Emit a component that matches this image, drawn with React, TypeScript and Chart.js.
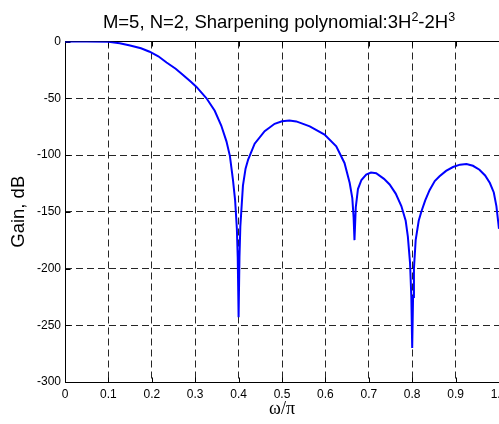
import React, { useEffect, useRef } from "react";
import { Chart, registerables } from "chart.js";

Chart.register(...registerables);

// ---- data ----
const TITLE_MAIN = "M=5, N=2, Sharpening polynomial:3H";
const TITLE_SUP1 = "2";
const TITLE_MID = "-2H";
const TITLE_SUP2 = "3";
const X_LABEL = "ω/π";
const Y_LABEL = "Gain, dB";

const OMEGA = [
  0, 0.05, 0.1, 0.126, 0.15, 0.175, 0.195, 0.215, 0.234, 0.255, 0.272, 0.29, 0.303, 0.326, 0.345, 0.36,
  0.372, 0.38, 0.387, 0.392, 0.396, 0.398, 0.4, 0.402, 0.404, 0.41, 0.416, 0.422, 0.437, 0.46, 0.483,
  0.5, 0.517, 0.533, 0.564, 0.598, 0.625, 0.644, 0.656, 0.662, 0.665, 0.667, 0.67, 0.675, 0.683, 0.694,
  0.705, 0.717, 0.735, 0.748, 0.762, 0.775, 0.785, 0.79, 0.795, 0.798, 0.8, 0.802, 0.804, 0.808, 0.815,
  0.821, 0.83, 0.84, 0.852, 0.863, 0.878, 0.894, 0.91, 0.925, 0.94, 0.955, 0.968, 0.979, 0.988, 0.994, 1.0,
];

const GAIN_DB = [
  0, 0, -0.3, -1.5, -3.5, -6, -9, -13, -18.5, -24, -29.6, -35.5, -40, -50, -61, -74,
  -88, -101, -122, -140, -165, -190, -243, -190, -163, -127, -112, -104, -90, -79, -72.5,
  -70.3, -69.7, -70.4, -74.8, -82, -92.4, -107, -124.7, -138, -155, -175, -146, -130, -122, -117.3,
  -115.5, -116, -121, -126, -134, -145, -158, -172, -195, -225, -270, -225, -200, -175, -158,
  -150, -140, -131, -123, -118.8, -114, -110.6, -108.5, -108, -109.5, -113, -118, -124.7, -133, -145, -165,
];

const X_MIN = 0;
const X_MAX = 1;
const X_STEP = 0.1;
const Y_MIN = -300;
const Y_MAX = 0;
const Y_STEP = 50;

const SANS = "'Liberation Sans', Arial, Helvetica, sans-serif";
const SERIF = "'Liberation Serif', 'Times New Roman', serif";

const decorPlugin = {
  id: "decor",
  beforeDatasetsDraw(chart: any) {
    const { ctx, chartArea: a, scales } = chart;
    const L = Math.round(a.left) + 0.5;
    const T = Math.floor(a.top) + 0.5;
    const B = Math.round(a.bottom) + 0.5;
    const R = a.right + 1;
    ctx.save();
    ctx.setLineDash([]);
    ctx.strokeStyle = "#000";
    ctx.lineWidth = 1;
    ctx.beginPath();
    ctx.moveTo(R, T);
    ctx.lineTo(L, T);
    ctx.lineTo(L, B);
    ctx.lineTo(R, B);
    ctx.stroke();
    // inward tick marks
    ctx.beginPath();
    for (const t of scales.x.ticks) {
      const px = Math.round(scales.x.getPixelForValue(t.value)) + 0.5;
      ctx.moveTo(px, B);
      ctx.lineTo(px, B - 5);
      ctx.moveTo(px, T);
      ctx.lineTo(px, T + 5);
    }
    for (const t of scales.y.ticks) {
      const py = Math.round(scales.y.getPixelForValue(t.value)) + 0.5;
      ctx.moveTo(L, py);
      ctx.lineTo(L + 5, py);
    }
    ctx.stroke();
    ctx.restore();
  },
  afterDraw(chart: any) {
    const { ctx } = chart;
    ctx.save();
    const mainFont = `18.5px ${SANS}`;
    const supFont = `12.5px ${SANS}`;
    const parts = [
      { t: TITLE_MAIN, sup: false },
      { t: TITLE_SUP1, sup: true },
      { t: TITLE_MID, sup: false },
      { t: TITLE_SUP2, sup: true },
    ];
    let total = 0;
    const widths = parts.map((p) => {
      ctx.font = p.sup ? supFont : mainFont;
      const w = ctx.measureText(p.t).width;
      total += w;
      return w;
    });
    let x = 279 - total / 2;
    const baseline = 28;
    ctx.fillStyle = "#000";
    ctx.textBaseline = "alphabetic";
    ctx.textAlign = "left";
    parts.forEach((p, i) => {
      ctx.font = p.sup ? supFont : mainFont;
      ctx.fillText(p.t, x, p.sup ? baseline - 7 : baseline);
      x += widths[i];
    });
    ctx.restore();
  },
};

export default function App() {
  const ref = useRef<HTMLCanvasElement | null>(null);

  useEffect(() => {
    if (!ref.current) return;
    const points = OMEGA.map((w, i) => ({ x: w, y: GAIN_DB[i] }));
    const chart = new Chart(ref.current, {
      type: "line",
      data: {
        datasets: [
          {
            data: points,
            borderColor: "#0000ff",
            borderWidth: 2,
            pointRadius: 0,
            tension: 0,
            fill: false,
          },
        ],
      },
      options: {
        responsive: false,
        animation: false,
        devicePixelRatio: 1,
        layout: { padding: { top: 41.5, right: 0, bottom: 0, left: 0 } },
        plugins: {
          legend: { display: false },
          title: { display: false },
          tooltip: { enabled: false },
        },
        scales: {
          x: {
            type: "linear",
            min: X_MIN,
            max: X_MAX,
            ticks: {
              stepSize: X_STEP,
              autoSkip: false,
              maxRotation: 0,
              padding: 5,
              color: "#000",
              font: { family: SANS, size: 12 },
            },
            grid: { color: "rgba(0,0,0,0.85)", lineWidth: 1, drawTicks: false },
            border: { display: false, dash: [7, 4] },
            title: {
              display: true,
              text: X_LABEL,
              color: "#000",
              font: { family: SERIF, size: 18 },
              padding: { top: 0, bottom: 4 },
            },
            afterFit: (s: any) => {
              s.height = 42;
              s.paddingLeft = 0;
              s.paddingRight = 0;
            },
          },
          y: {
            type: "linear",
            min: Y_MIN,
            max: Y_MAX,
            ticks: {
              stepSize: Y_STEP,
              padding: 4,
              color: "#000",
              font: { family: SANS, size: 12 },
            },
            grid: { color: "rgba(0,0,0,0.85)", lineWidth: 1, drawTicks: false },
            border: { display: false, dash: [7, 4] },
            title: {
              display: true,
              text: Y_LABEL,
              color: "#000",
              font: { family: SANS, size: 18.5 },
              padding: { top: 8, bottom: 0 },
            },
            afterFit: (s: any) => {
              s.width = 65;
              s.paddingTop = 0;
              s.paddingBottom = 0;
            },
          },
        },
      } as any,
      plugins: [decorPlugin],
    });
    return () => chart.destroy();
  }, []);

  return (
    <canvas
      ref={ref}
      width={499}
      height={424}
      style={{ position: "absolute", left: 0, top: 0, display: "block", background: "#fff" }}
    />
  );
}
